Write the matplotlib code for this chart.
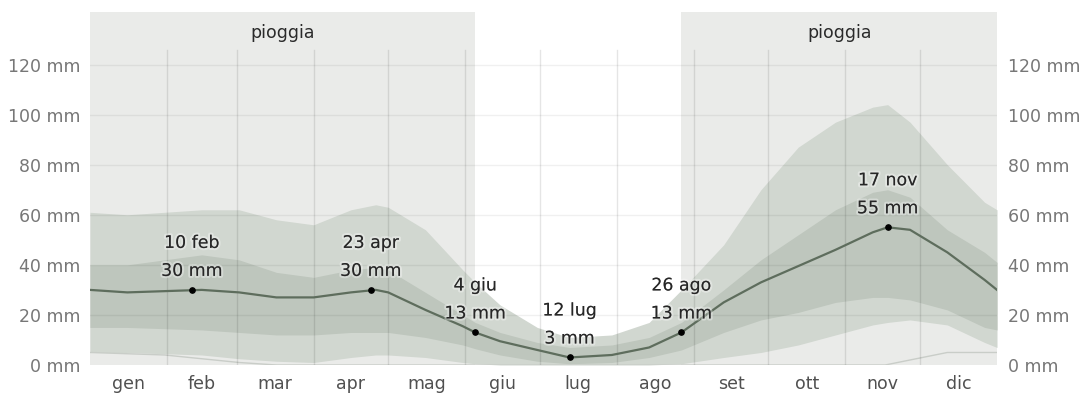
import matplotlib
matplotlib.use("Agg")
import matplotlib.pyplot as plt
import matplotlib.patheffects as pe

# ---- data (day of year, mm) ----
days = [0, 15, 30, 45, 60, 75, 90, 105, 115, 120, 135, 150, 155, 165, 180, 193, 210, 225, 238, 255, 270, 285, 300, 315, 321, 330, 345, 360, 365]
median = [30, 29, 29.5, 30, 29, 27, 27, 29, 30, 29, 22, 15.5, 13, 9.5, 6, 3, 4, 7, 13, 25, 33, 39.5, 46, 53, 55, 54, 45, 34, 30]
p75 = [40, 40, 42, 44, 42, 37, 35, 38, 39, 38, 29, 20, 17, 13, 9, 7, 8, 11, 17, 30, 42, 52, 62, 69, 70, 67, 54, 45, 41]
p25 = [15, 15, 14.5, 14, 13, 12, 12, 13, 13, 13, 11, 8, 6.5, 4, 1.5, 0.5, 1, 3, 6, 13, 18, 21, 25, 27, 27, 26, 22, 15, 14]
p90 = [61, 60, 61, 62, 62, 58, 56, 62, 64, 63, 54, 38, 33, 24, 15, 11, 12, 17, 30, 48, 70, 87, 97, 103, 104, 97, 80, 65, 62]
p10 = [5, 5, 4.5, 4, 2.5, 1.5, 1, 3, 4, 4, 3, 1, 0.5, 0, 0, 0, 0, 0, 0.5, 3, 5, 8, 12, 16, 17, 18, 16, 9, 7]

snow_days = [0, 30, 60, 75, 320, 345, 365]
snow = [5, 4, 1, 0, 0, 5, 5]

month_names = ["gen", "feb", "mar", "apr", "mag", "giu", "lug", "ago", "set", "ott", "nov", "dic"]
month_starts = [0, 31, 59, 90, 120, 151, 181, 212, 243, 273, 304, 334, 365]

rain_seasons = [(0, 155), (238, 365)]
season_label = "pioggia"

ann_days = [41, 113, 155, 193, 238, 321]
ann_vals = [30, 30, 13, 3, 13, 55]
ann_dates = ["10 feb", "23 apr", "4 giu", "12 lug", "26 ago", "17 nov"]

yticks = [0, 20, 40, 60, 80, 100, 120]

# ---- figure ----
fig = plt.figure(figsize=(10.81, 3.94), dpi=100)
ax = fig.add_axes([90 / 1081, 1 - 365 / 394, (997 - 90) / 1081, (365 - 12) / 394])
ax.set_xlim(0, 365)
ax.set_ylim(0, 141)

for s, e in rain_seasons:
    ax.axvspan(s, e, color="#eaebe9", zorder=0, lw=0)
    ax.text((s + e) / 2, 132.5, season_label, ha="center", va="center",
            fontsize=12.5, color="#2a2a2a", zorder=6)

ax.fill_between(days, p10, p90, color="#d1d7d0", lw=0, zorder=1)
ax.fill_between(days, p25, p75, color="#bec6bd", lw=0, zorder=2)
ax.plot(snow_days, snow, color="#c9cdc8", lw=1, zorder=2.5)

for y in yticks[1:]:
    ax.axhline(y, color="black", alpha=0.06, lw=1, zorder=3)
for m in month_starts[1:-1]:
    ax.plot([m, m], [0, 126], color="black", alpha=0.1, lw=1, zorder=3)

ax.plot(days, median, color="#5e6d5d", lw=1.6, zorder=4)

halo = [pe.withStroke(linewidth=3, foreground=(1, 1, 1, 0.35))]
for d, v, lab in zip(ann_days, ann_vals, ann_dates):
    ax.plot([d], [v], "o", color="black", ms=3.8, zorder=5)
    ax.annotate(f"{v} mm", (d, v), xytext=(0, 19), textcoords="offset pixels",
                ha="center", va="center", fontsize=12.5, color="#262626",
                zorder=6, path_effects=halo)
    ax.annotate(lab, (d, v), xytext=(0, 47), textcoords="offset pixels",
                ha="center", va="center", fontsize=12.5, color="#262626",
                zorder=6, path_effects=halo)

for sp in ax.spines.values():
    sp.set_visible(False)

ax.set_yticks(yticks)
ax.set_yticklabels([f"{y} mm" for y in yticks])
ax.tick_params(axis="y", length=0, pad=7, labelsize=12.5, labelcolor="#777777")

centers = [(month_starts[i] + month_starts[i + 1]) / 2 for i in range(12)]
ax.set_xticks(centers)
ax.set_xticklabels(month_names)
ax.tick_params(axis="x", length=0, pad=7, labelsize=12.5, labelcolor="#505050")

ax2 = ax.twinx()
ax2.set_ylim(ax.get_ylim())
ax2.set_yticks(yticks)
ax2.set_yticklabels([f"{y} mm" for y in yticks])
ax2.tick_params(axis="y", length=0, pad=8, labelsize=12.5, labelcolor="#777777")
for sp in ax2.spines.values():
    sp.set_visible(False)

fig.savefig("out.png", dpi=100)
